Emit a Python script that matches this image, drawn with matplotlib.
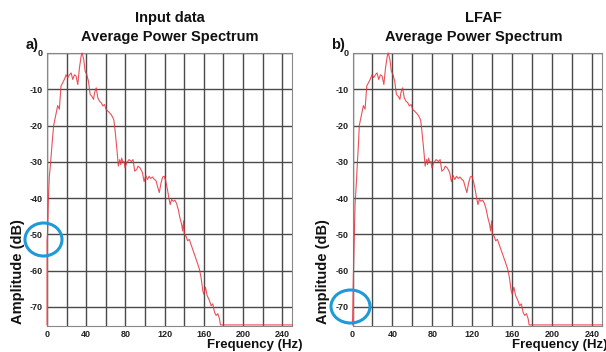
import numpy as np
import matplotlib.pyplot as plt
from matplotlib.patches import Ellipse

plt.rcParams['font.family'] = ['Liberation Sans', 'DejaVu Sans']
plt.rcParams['font.weight'] = 'bold'
plt.rcParams['axes.unicode_minus'] = False

# low-frequency onset of each spectrum (Hz, dB)
onset_a_freq = [0.0, 0.0, 0.7, 1.4, 2.4, 3.4, 4.4, 5.8]
onset_a_amp = [-75, -52, -48.6, -40.4, -34, -31.2, -27.7, -23]
onset_b_freq = [0.0, 0.7, 1.7, 2.6, 4.0, 5.0, 6.0]
onset_b_amp = [-75, -63, -51.6, -41.6, -35.2, -29.7, -25]

# shared part of the spectrum (Hz, dB)
body_freq = [6.8, 9.2, 10.9, 12.6, 14.3, 16.0, 17.7, 19.5, 21.2, 22.9, 24.6, 26.3,
             28.0, 29.7, 31.4, 33.1, 34.8, 35.8, 37.5, 38.9, 40.6, 42.3, 44.0, 45.7,
             47.5, 48.5, 50.2, 51.9, 53.6, 55.3, 57.0, 58.7, 60.4, 62.1, 63.8, 65.5,
             67.2, 68.3, 69.4, 70.7, 71.8, 72.8, 74.2, 75.2, 76.2, 77.6, 78.6, 79.6,
             81.3, 83.7, 86.1, 87.8, 89.5, 91.6, 92.9, 95.0, 97.4, 99.1, 100.8, 102.5,
             104.2, 105.9, 107.7, 109.3, 111.2, 113.0, 114.6, 116.2, 118.0, 119.7,
             121.3, 123.0, 124.7, 125.7, 127.1, 128.8, 130.5, 132.2, 133.9, 135.6,
             137.4, 138.4, 139.4, 140.1, 141.8, 143.5, 145.2, 146.9, 148.6, 150.4,
             153.8, 155.5, 157.2, 159.0, 160.0, 161.7, 163.4, 165.8, 167.5, 169.2,
             170.9, 172.6, 174.3, 176.0, 177.0, 250.0]
body_amp = [-20, -16.8, -14.5, -15.5, -9.1, -8.2, -7.3, -6.0, -6.8, -6.0, -5.5, -7.3,
            -6.0, -6.4, -8.7, -4.1, -0.9, 0, -1.8, -5.0, -6.0, -7.8, -11.4, -11.9,
            -12.8, -11.0, -9.6, -12.4, -13.3, -13.7, -14.6, -14.2, -15.6, -16.0, -16.5, -17.0,
            -17.8, -18.6, -21.2, -24.8, -28.0, -31.2, -29.4, -30.8, -29.0, -30.3, -29.9, -31.7,
            -30.3, -29.4, -29.9, -29.4, -32.6, -32.1, -31.2, -31.7, -33.0, -35.5, -33.8, -34.9,
            -34.0, -34.6, -34.2, -34.8, -35.2, -37.0, -38.5, -36.0, -34.2, -34.0,
            -35.5, -37.8, -40.5, -41.8, -40.4, -40.9, -40.6, -41.5, -43.1, -45.4,
            -47.3, -49.1, -46.3, -50.0, -50.5, -51.8, -51.4, -52.8, -54.1, -55.5,
            -58.2, -59.6, -61.9, -65.6, -66.5, -64.6, -66.9, -68.3, -69.7, -69.2,
            -71.5, -72.4, -71.9, -73.3, -75.0, -75.0]

titles = ["Input data", "LFAF"]
panel_tags = ["a)", "b)"]
onsets = [(onset_a_freq, onset_a_amp), (onset_b_freq, onset_b_amp)]

fig = plt.figure(figsize=(6.06, 3.52), dpi=100, facecolor='white')
W, H = 606, 352
boxes = [(47, 292), (352.5, 602)]
top, bottom = 53, 326

for i, (x0, x1) in enumerate(boxes):
    ax = fig.add_axes([x0 / W, 1 - bottom / H, (x1 - x0) / W, (bottom - top) / H])
    f = list(onsets[i][0]) + body_freq
    a = list(onsets[i][1]) + body_amp
    ax.plot(f, a, color='#e8323c', lw=0.8, alpha=0.85, clip_on=False, zorder=3)
    ax.set_xlim(0, 250)
    ax.set_ylim(-75.3, 0)
    ax.set_xticks(np.arange(0, 241, 40))
    ax.set_xticks(np.arange(0, 241, 20), minor=True)
    ax.set_yticks(np.arange(0, -71, -10))
    ax.grid(True, which='both', color='#4a4a4a', lw=1.0)
    ax.tick_params(which='both', length=0, labelsize=6.5, colors='#222222', pad=3)
    for s in ax.spines.values():
        s.set_color('#888888')
        s.set_linewidth(0.8)
    xc = (x0 + x1) / 2 / W
    fig.text(xc + (0.01 if i else 0), 1 - 18 / H, titles[i], ha='center', va='center',
             fontsize=10.5, weight='bold', color='#111111')
    fig.text(xc - (0.006 if i else 0), 1 - 37 / H, "Average Power Spectrum", ha='center',
             va='center', fontsize=10.5, weight='bold', color='#111111')
    fig.text((x0 - 15) / W, 1 - 45 / H, panel_tags[i], ha='center', va='center',
             fontsize=10.5, weight='bold', color='#111111')
    fig.text((x0 - 29) / W, 1 - 272 / H, "Amplitude (dB)", rotation=90, ha='center',
             va='center', fontsize=10.5, weight='bold', color='#111111')
    fig.text((min(x0 + 160, W - 94)) / W, 1 - 345 / H, "Frequency (Hz)", ha='left',
             va='center', fontsize=9.5, weight='bold', color='#111111')

# highlight circles (pixel centres converted to inches)
for cx, cy, w, h in [(43.5, 239.5, 37, 33), (350.5, 306.5, 39, 33)]:
    fig.patches.append(Ellipse((cx / 100, (H - cy) / 100), w / 100, h / 100,
                               transform=fig.dpi_scale_trans, fill=False,
                               ec='#1e9ad8', lw=2.2))

fig.savefig("out.png", dpi=100)
